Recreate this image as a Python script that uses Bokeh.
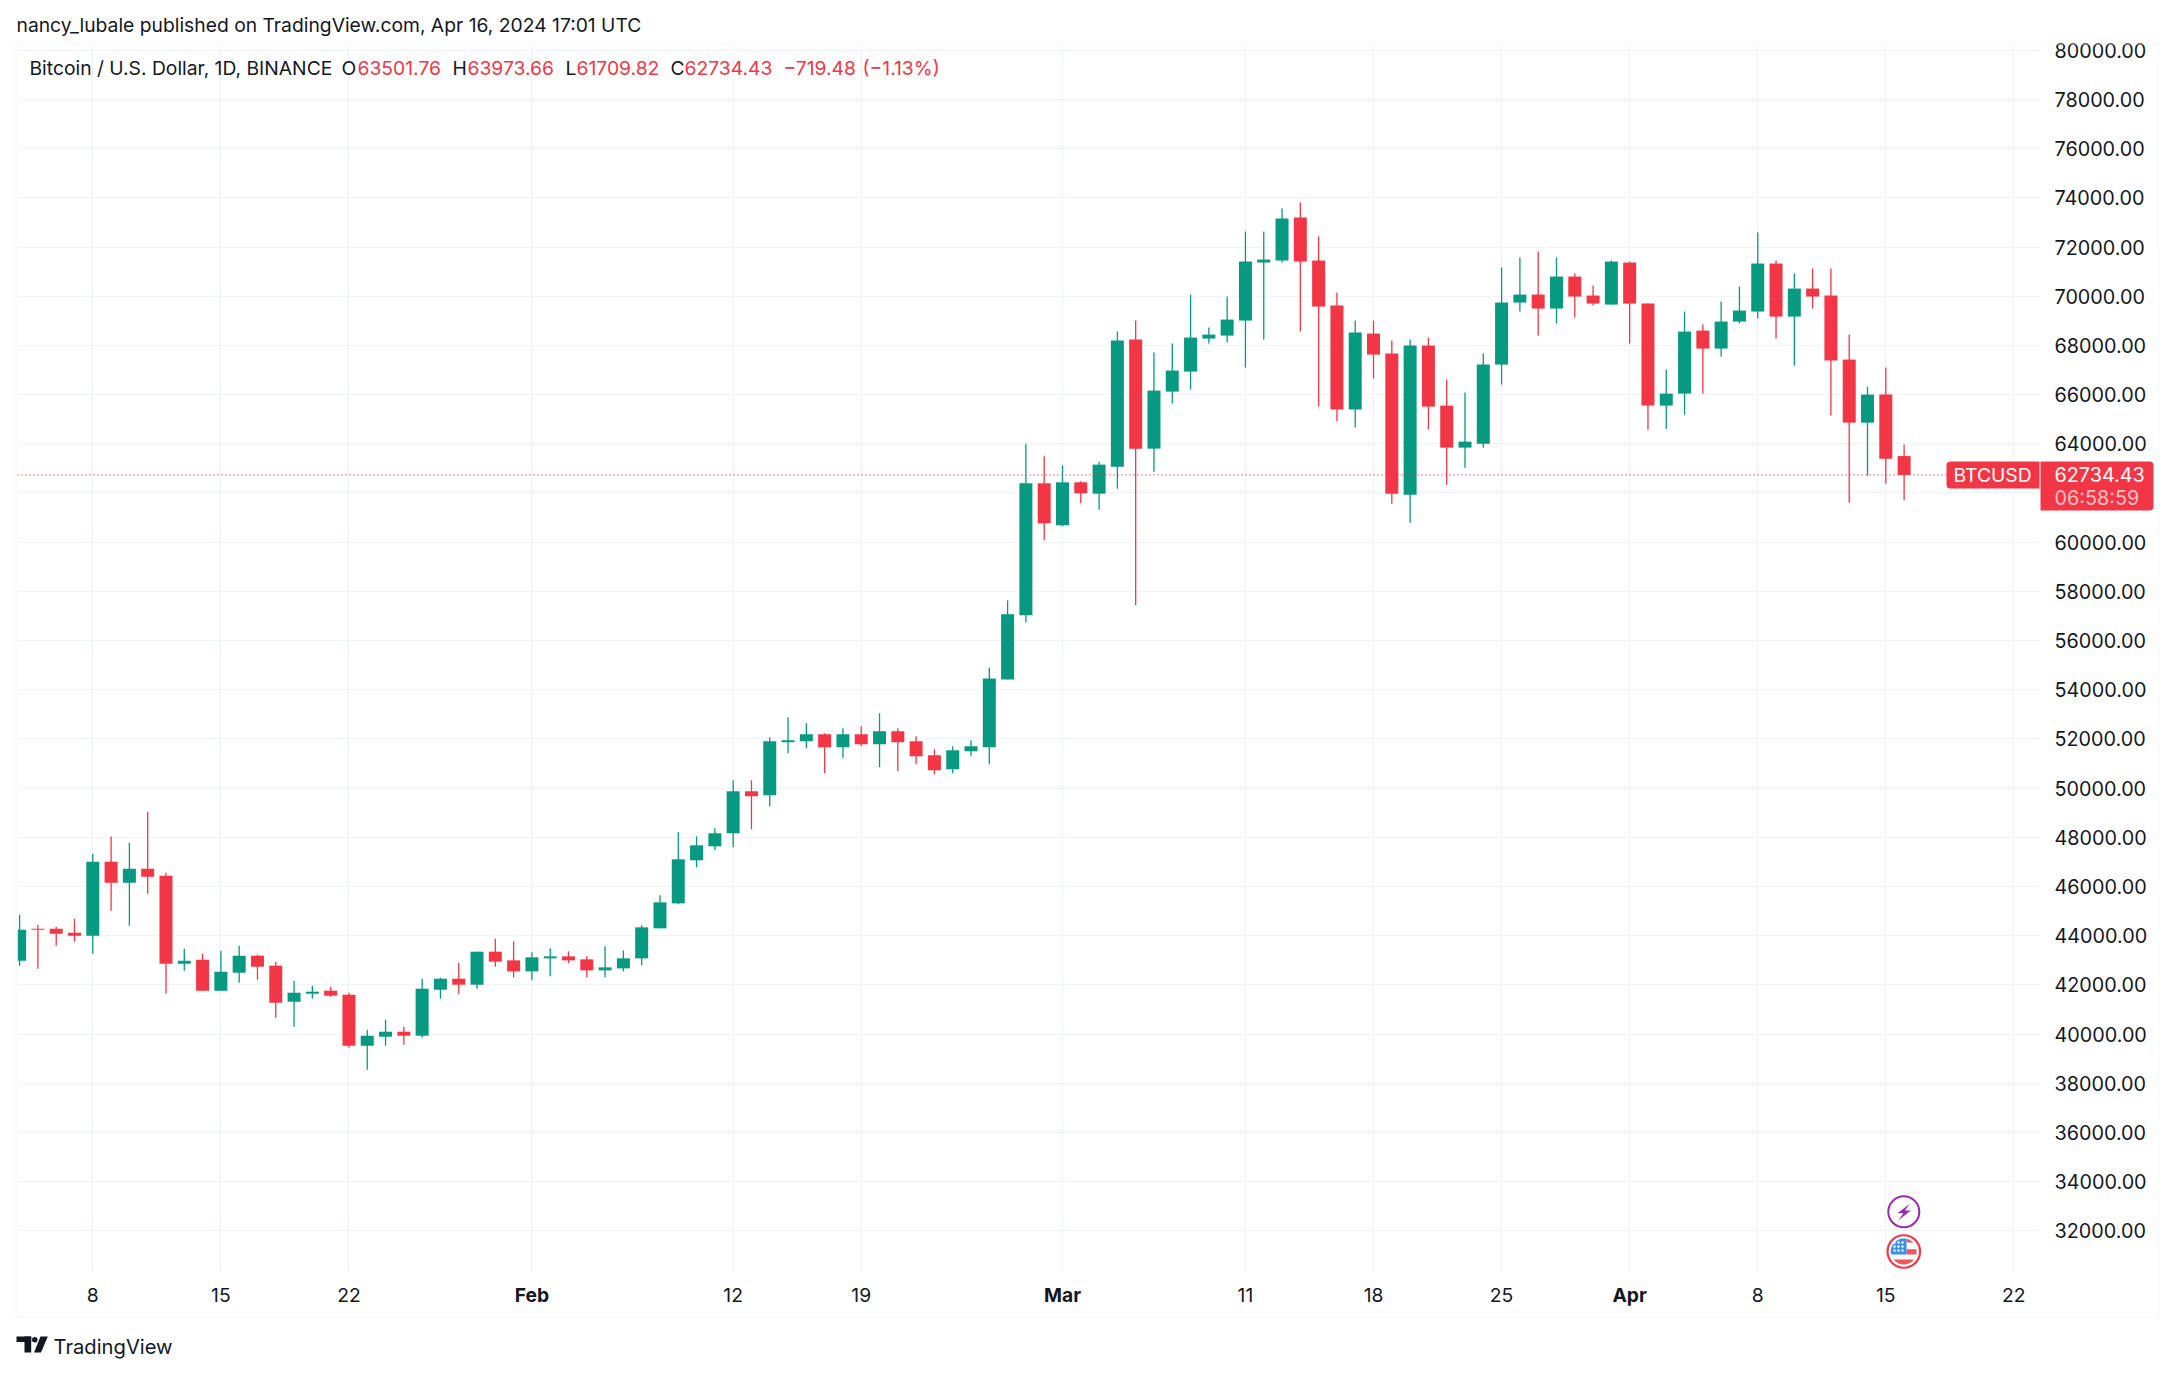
import numpy as np
import pandas as pd
from bokeh.plotting import figure, ColumnDataSource
from bokeh.models import Label, BoxAnnotation, Span, PolyAnnotation, FixedTicker, NumeralTickFormatter
from bokeh.embed import file_html
from bokeh.resources import INLINE

# ------------------------------ data ------------------------------
first_day = "2024-01-04"
opens_jan = [42983,44285,44285,44122,44000,47010,46156,46726,46441,42861,43024,41763,42495,43187,42780,41315,41640,41763,41600,39525,39892,40095,39932,41803,42251,42007,43349,42997]
closes_jan = [44243,44244,44082,44000,47010,46156,46726,46400,42861,42983,41763,42536,43187,42739,41275,41681,41722,41559,39525,39932,40095,39932,41844,42251,42007,43349,42943,42549]
highs_jan = [44854,44448,44366,44692,47336,48028,47783,49044,46563,43471,43268,43390,43593,43227,42942,42170,41966,41925,41681,40176,40583,40298,42251,42292,42902,43349,43878,43769]
lows_jan = [42780,42658,43593,43756,43268,45017,44407,45709,41641,42576,41763,41763,42088,42210,40664,40298,41437,41519,39444,38549,39525,39566,39851,41437,41641,41844,42739,42305]

opens_feb = [42549,43078,43159,43037,42590,42671,43078,44298,45315,47065,47634,48163,49871,49709,51865,51905,52190,51661,52190,51783,52312,51905,51336,50766,51499,51661,54420,57024,62394]
closes_feb = [43119,43159,42997,42590,42712,43078,44339,45356,47105,47675,48163,49871,49668,51905,51946,52190,51661,52190,51783,52312,51865,51295,50726,51539,51702,54461,57065,62394,60766]
highs_feb = [43322,43485,43363,43159,43566,43403,44420,45641,48204,48041,48366,50319,50319,52068,52882,52638,52231,52434,52516,53045,52434,52109,51580,51702,51946,54908,57634,64007,63492]
lows_feb = [42183,42346,42875,42305,42305,42549,42793,44298,45275,46780,47471,47593,48326,49261,51417,51621,50604,51214,51702,50848,50685,50970,50563,50604,51295,50970,54420,56739,60075]

opens_mar = [60685,62434,61973,63071,68238,63803,66122,66936,68278,68400,69011,71370,71451,73200,71451,69621,65390,68482,67668,61932,67994,65553,63844,64007,67221,69743,70068,69499,70800,70028,69661]
closes_mar = [62434,61987,63153,68197,63803,66163,66977,68319,68441,69051,71411,71492,73160,71411,69580,65390,68522,67627,61973,67994,65512,63844,64088,67221,69743,70068,69499,70800,69987,69702,71411]
highs_mar = [63126,62475,63275,68563,69011,67709,68075,70068,68726,69987,72631,72631,73567,73811,72428,70150,69011,69011,68197,68238,68319,66610,66082,67668,71167,71574,71817,71574,70922,70434,71451]
lows_mar = [60644,61580,61322,62176,57440,62868,65634,66204,68075,68116,67099,68238,71370,68563,65512,64902,64658,66651,61566,60793,64576,62339,63031,63844,66407,69377,68400,68888,69133,69621,69661]

opens_apr = [71370,69702,65553,66041,68604,67871,68970,69377,71329,69173,70312,70028,67424,64861,66000,63501.76]
closes_apr = [69702,65553,66041,68563,67871,68970,69417,71329,69173,70312,69987,67383,64861,66000,63397,62734.43]
highs_apr = [71411,69702,67017,69377,68848,69784,70394,72590,71451,70922,71126,71126,68441,66326,67098,63973.66]
lows_apr = [68075,64576,64617,65187,66041,67546,68888,69092,68278,67180,69499,65146,61607,62705,62380,61709.82]

tick_dates = ["2024-01-08","2024-01-15","2024-01-22","2024-02-01","2024-02-12","2024-02-19","2024-03-01","2024-03-11","2024-03-18","2024-03-25","2024-04-01","2024-04-08","2024-04-15","2024-04-22"]
tick_labels = ["8","15","22","Feb","12","19","Mar","11","18","25","Apr","8","15","22"]
bold_labels = ["Feb","Mar","Apr"]
price_ticks = list(range(32000, 80001, 2000))

# ---------------------------- layout --------------------------------
W, H = 2160, 1320
F_L, F_R, F_T, F_B = 17, 2040, 44, 1272
PX_JAN8, PX_DAY = 92.3, 18.296
PY_64K, PY_PER_K = 443.3, 24.594
UP, DOWN, INK = "#089981", "#F23645", "#131722"
GRID, FRAME = "#F0F3FA", "#F0F3FA"
FONT = "Inter"
TXT = "19.3px"

opens = opens_jan + opens_feb + opens_mar + opens_apr
closes = closes_jan + closes_feb + closes_mar + closes_apr
highs = highs_jan + highs_feb + highs_mar + highs_apr
lows = lows_jan + lows_feb + lows_mar + lows_apr
dates = pd.date_range(first_day, periods=len(opens), freq="D")
base = pd.Timestamp("2024-01-08")
days = [(d - base).days for d in dates]
colors = [UP if c >= o else DOWN for o, c in zip(opens, closes)]
src = ColumnDataSource(dict(x=days, o=opens, c=closes, h=highs, l=lows,
                            top=np.maximum(opens, closes), bot=np.minimum(opens, closes), col=colors))


def fx(px):
    return (np.asarray(px, dtype=float) - PX_JAN8) / PX_DAY


def fy(py):
    return 64000 - (np.asarray(py, dtype=float) - PY_64K) / PY_PER_K * 1000


p = figure(width=W, height=H, output_backend="svg", toolbar_location=None,
           x_range=(float(fx(F_L)), float(fx(F_R))), y_range=(float(fy(F_B)), float(fy(F_T))),
           y_axis_location="right",
           min_border_left=F_L, min_border_right=W - F_R, min_border_top=F_T, min_border_bottom=H - F_B)
p.outline_line_color = None
p.background_fill_color = "white"
p.border_fill_color = "white"

tick_days = [(pd.Timestamp(d) - base).days for d in tick_dates]
xa = p.xaxis[0]
xa.ticker = FixedTicker(ticks=tick_days)
xa.major_label_overrides = {d: ("" if t in bold_labels else t) for d, t in zip(tick_days, tick_labels)}
xa.axis_line_color = None
xa.major_tick_line_color = None
xa.minor_tick_line_color = None
xa.major_label_text_font = FONT
xa.major_label_text_font_size = TXT
xa.major_label_text_color = INK
xa.major_label_standoff = 9

ya = p.yaxis[0]
ya.ticker = FixedTicker(ticks=price_ticks)
ya.formatter = NumeralTickFormatter(format="0.00")
ya.axis_line_color = None
ya.major_tick_line_color = None
ya.minor_tick_line_color = None
ya.major_label_text_font = FONT
ya.major_label_text_font_size = "19.8px"
ya.major_label_text_color = INK
ya.major_label_standoff = 8

p.xgrid.grid_line_color = GRID
p.ygrid.grid_line_color = GRID
p.xgrid.grid_line_width = 1.2
p.ygrid.grid_line_width = 1.2

p.segment("x", "h", "x", "l", source=src, line_color="col", line_width=1.3)
p.vbar(x="x", width=13 / PX_DAY, top="top", bottom="bot", source=src,
       fill_color="col", line_color=None)

p.add_layout(Span(location=closes[-1], dimension="width", line_color=DOWN, line_width=1.3,
                  line_dash="1 3", level="overlay"))

# event icons
ICON_X = 1903.3
p.scatter([float(fx(ICON_X))], [float(fy(1211.3))], size=31, marker="circle", fill_color="white",
          line_color="#9C27B0", line_width=2)
bolt_x = np.array([328, 291, 309, 293, 331, 313]) / 3 + 1800
bolt_y = np.array([130, 158, 158, 180, 150, 150]) / 3 + 1160
p.patch(fx(bolt_x), fy(bolt_y), fill_color="#9C27B0", line_color=None)

p.scatter([float(fx(ICON_X))], [float(fy(1251))], size=32.5, marker="circle", fill_color="white",
          line_color=DOWN, line_width=2.2)


def band(x0, x1, y0, y1, r=13.0, cx=ICON_X, cy=1251.0):
    xs = np.r_[np.linspace(x0, x1, 12), np.full(12, x1), np.linspace(x1, x0, 12), np.full(12, x0)]
    ys = np.r_[np.full(12, y0), np.linspace(y0, y1, 12), np.full(12, y1), np.linspace(y1, y0, 12)]
    dx, dy = xs - cx, ys - cy
    k = np.minimum(1.0, r / np.maximum(np.hypot(dx, dy), 1e-6))
    return fx(cx + dx * k), fy(cy + dy * k)


for x0, x1, y0, y1 in [(1906, 1916, 1238, 1242), (1906, 1916, 1248.7, 1254), (1890, 1916, 1259, 1264)]:
    bx, by = band(x0, x1, y0, y1)
    p.patch(bx, by, fill_color="#F0565A", line_color=None)
bx, by = band(1890, 1906, 1238, 1254)
p.patch(bx, by, fill_color="#3A8FE8", line_color=None)
sx, sy = np.meshgrid([1894, 1898, 1902], [1242, 1246, 1250])
p.scatter(fx(sx.ravel()), fy(sy.ravel()), size=2.4, marker="circle", fill_color="white", line_color=None)

# ------------- transparent sheet over the page, for what lies outside the plot frame -------------
OW, OH = 2170, 1365
o = figure(width=OW, height=OH, output_backend="svg", toolbar_location=None,
           x_range=(0, OW), y_range=(OH, 0), x_axis_location=None, y_axis_location=None,
           min_border=0, styles={"position": "absolute", "left": "0px", "top": "0px"})
o.grid.visible = False
o.outline_line_color = None
o.background_fill_alpha = 0
o.border_fill_alpha = 0


def text(s, px, py, color=INK, size=TXT, style="normal", align="left", alpha=1.0):
    o.add_layout(Label(x=px, y=py, text=s, text_color=color, level="overlay",
                       text_font=FONT, text_font_size=size, text_font_style=style, text_align=align,
                       text_baseline="middle", text_alpha=alpha))


def box(l, r, t, b, **kw):
    o.add_layout(BoxAnnotation(left=l, right=r, top=t, bottom=b, **kw))


box(16, 2158, 43.5, 1316.5, fill_alpha=0, line_color=FRAME, line_width=2.4)

text("nancy_lubale published on TradingView.com, Apr 16, 2024 17:01 UTC", 16, 24.7)
text("Bitcoin / U.S. Dollar, 1D, BINANCE", 29, 67.7)
for s, x, c in [("O", 341, INK), ("63501.76", 357, DOWN), ("H", 452, INK), ("63973.66", 467, DOWN),
                ("L", 565, INK), ("61709.82", 576, DOWN), ("C", 670, INK), ("62734.43", 684, DOWN),
                ("\u2212719.48", 783, DOWN), ("(\u22121.13%)", 862, DOWN)]:
    text(s, x, 67.7, color=c)

for d, t in zip(tick_days, tick_labels):
    if t in bold_labels:
        text(t, PX_JAN8 + PX_DAY * d, 1294, style="bold", align="center")

box(1946, 2039, 461, 488, fill_color=DOWN, fill_alpha=1, line_color=None,
    border_radius=dict(top_left=4, bottom_left=4, top_right=0, bottom_right=0))
box(2040, 2153, 461, 510, fill_color=DOWN, fill_alpha=1, line_color=None,
    border_radius=dict(top_left=0, bottom_left=0, top_right=4, bottom_right=4))
text("BTCUSD", 1953, 474, color="white")
text("62734.43", 2054, 474, color="white", size="19.8px")
text("06:58:59", 2054, 497, color="white", alpha=0.7, size="19.8px")

LOGO = "#131722"
box(16, 30.7, 1336, 1341.6, fill_color=LOGO, fill_alpha=1, line_color=None)
box(24, 30.7, 1336, 1352, fill_color=LOGO, fill_alpha=1, line_color=None)
box(31.5, 37, 1336.5, 1342, fill_color=LOGO, fill_alpha=1, line_color=None, border_radius=3)
o.add_layout(PolyAnnotation(xs=[40, 47.3, 40.5, 33.5], ys=[1336, 1336, 1352, 1352],
                            fill_color=LOGO, fill_alpha=1, line_color=None))
text("TradingView", 53, 1346, size="20.2px")

open("out.html", "w").write(file_html([p, o], INLINE))
